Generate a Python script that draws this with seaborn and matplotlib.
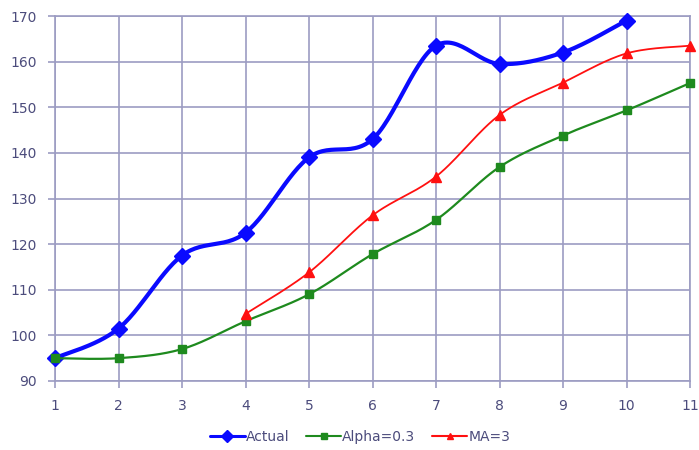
import numpy as np
import matplotlib
matplotlib.use("Agg")
import matplotlib.pyplot as plt
from matplotlib.lines import Line2D
import seaborn as sns

periods = [1, 2, 3, 4, 5, 6, 7, 8, 9, 10, 11]
actual = [95, 101.5, 117.5, 122.5, 139, 143, 163.5, 159.5, 162, 169]
alpha_03 = [95, 95, 97, 103.1, 109, 117.8, 125.3, 136.9, 143.8, 149.3, 155.3]
ma_periods = [4, 5, 6, 7, 8, 9, 10, 11]
ma_3 = [104.7, 113.8, 126.3, 134.8, 148.3, 155.4, 161.8, 163.5]

y_ticks = [90, 100, 110, 120, 130, 140, 150, 160, 170]

sns.set_style("white")
plt.rcParams["font.family"] = ["DejaVu Sans"]

grid_color = "#9c9cc2"
text_color = "#4c4c7c"


def smooth(xs, ys, steps=30):
    """Catmull-Rom style Bezier smoothing through the given points."""
    xs = np.asarray(xs, float)
    ys = np.asarray(ys, float)
    pts = np.column_stack([xs, ys])
    n = len(pts)
    out = [pts[0]]
    t = np.linspace(0, 1, steps)[1:]
    for i in range(n - 1):
        p0 = pts[i - 1] if i > 0 else pts[i]
        p1 = pts[i]
        p2 = pts[i + 1]
        p3 = pts[i + 2] if i + 2 < n else pts[i + 1]
        c1 = p1 + (p2 - p0) / 6.0
        c2 = p2 - (p3 - p1) / 6.0
        seg = ((1 - t) ** 3)[:, None] * p1 + (3 * (1 - t) ** 2 * t)[:, None] * c1 \
            + (3 * (1 - t) * t ** 2)[:, None] * c2 + (t ** 3)[:, None] * p2
        out.extend(seg)
    out = np.array(out)
    return out[:, 0], out[:, 1]


fig = plt.figure(figsize=(6.99, 4.5), dpi=100)
ax = fig.add_axes([55 / 699, 1 - 381 / 450, 635 / 699, 365 / 450])

series = [
    (periods[:len(actual)], actual, "#0a0aff", 3.0, "D", 8.5, 2.2, "Actual"),
    (periods, alpha_03, "#1e8a1e", 1.6, "s", 6.0, 1.5, "Alpha=0.3"),
    (ma_periods, ma_3, "#ff1010", 1.3, "^", 7.0, 1.5, "MA=3"),
]

handles = []
for z, (xs, ys, color, lw, mk, ms, leg_lw, label) in enumerate(series):
    sx, sy = smooth(xs, ys)
    sns.lineplot(x=sx, y=sy, sort=False, estimator=None, color=color,
                 linewidth=lw, ax=ax, zorder=3 + z)
    ax.plot(xs, ys, linestyle="none", marker=mk, markersize=ms, color=color,
            markeredgecolor=color, clip_on=False, zorder=3 + z)
    handles.append(Line2D([], [], color=color, linewidth=leg_lw, marker=mk,
                          markersize=ms * 0.7, label=label))

ax.set_xlim(1, 11)
ax.set_ylim(90, 170)
ax.set_xticks(periods)
ax.set_yticks(y_ticks)
ax.grid(True, color=grid_color, linewidth=1.2)
for s in ax.spines.values():
    s.set_color(grid_color)
    s.set_linewidth(1.2)
ax.tick_params(axis="both", which="major", length=5, width=1.2, color=grid_color,
               labelcolor=text_color, labelsize=10, left=True, bottom=True)
ax.tick_params(axis="x", pad=8)
ax.tick_params(axis="y", pad=8)
ax.set_xlabel("")
ax.set_ylabel("")

fig.legend(handles=handles, loc="center", bbox_to_anchor=(360 / 699, 1 - 437 / 450),
           ncol=3, frameon=False, fontsize=10, handlelength=2.5,
           handletextpad=0.1, columnspacing=1.2, labelcolor=text_color)

fig.savefig("out.png", dpi=100, facecolor="white")
